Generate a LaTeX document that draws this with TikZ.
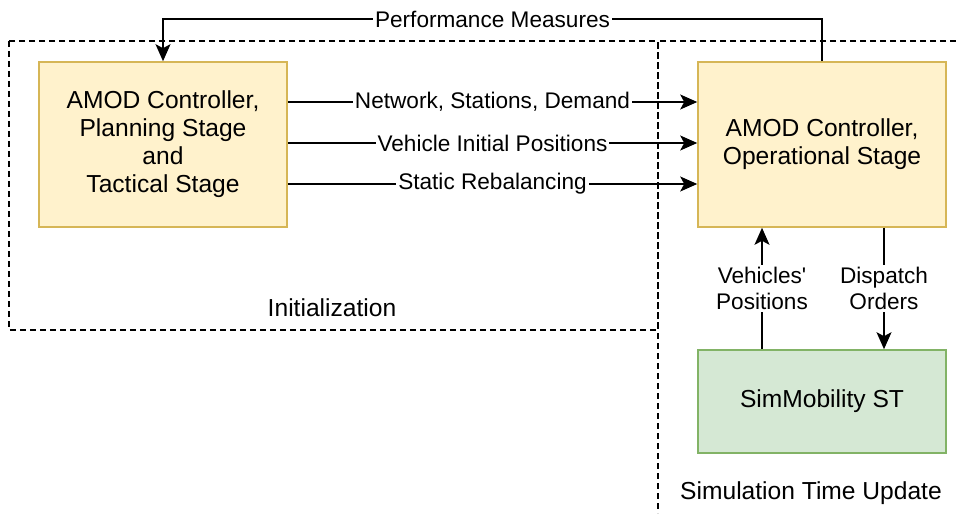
\documentclass[tikz,border=0pt]{standalone}
\usepackage{fontspec}
\setmainfont{Liberation Sans}
\usetikzlibrary{arrows.meta}

\definecolor{ctrlfill}{HTML}{FFF2CC}
\definecolor{ctrldraw}{HTML}{D6B656}
\definecolor{simfill}{HTML}{D5E8D4}
\definecolor{simdraw}{HTML}{82B366}

\tikzset{
	ctrl/.style={draw=ctrldraw, fill=ctrlfill, line width=0.8pt, minimum width=124pt, minimum height=82.5pt, align=center, font=\fontsize{12.3}{14}\selectfont},
	simbox/.style={draw=simdraw, fill=simfill, line width=0.8pt, minimum width=124pt, minimum height=51.5pt, align=center, font=\fontsize{12.3}{14}\selectfont},
	region/.style={line width=0.9pt, dash pattern=on 3pt off 2pt},
	regionlbl/.style={font=\fontsize{12.3}{14}\selectfont},
	arr/.style={line width=0.8pt, -{Stealth[length=8.5pt,width=7.5pt,inset=2pt]}},
	lbl/.style={fill=white, inner sep=1pt, align=center, font=\fontsize{11.3}{13}\selectfont},
}

\begin{document}
\begin{tikzpicture}[x=0.5pt,y=-0.5pt]
		\useasboundingbox (0,0) rectangle (956,513);
		
		\draw[region] (9,41) rectangle (658,330);
		\draw[region] (956,41) -- (658,41) -- (658,513);
		\node[regionlbl] (init) at (332,308) {Initialization};
		\node[regionlbl] (simtime) at (811,493) {Simulation Time Update};
		
		\node[ctrl] (Pl) at (163,144.5) {AMOD Controller,\\Planning Stage\\and\\Tactical Stage};
		\node[ctrl] (Op) at (822,144.5) {AMOD Controller,\\Operational Stage};
		\node[simbox] (Sim) at (822,401.5) {SimMobility ST};
		
		\draw [arr] ([yshift=21.25pt]Pl.east) -- ([yshift=21.25pt]Op.west) node[midway,lbl] {Network, Stations, Demand};
		\draw [arr] ([yshift=0.75pt]Pl.east) -- ([yshift=0.75pt]Op.west) node[midway,lbl] {Vehicle Initial Positions};
		\draw [arr] ([yshift=-19.75pt]Pl.east) -- ([yshift=-19.75pt]Op.west) node[midway,lbl] {Static Rebalancing};
		
		\draw [arr] (Op.north) -- ++(0,-42) -| (Pl.north) node[pos=0.25,lbl] {Performance Measures};
		
		\draw [arr] ([xshift=-30pt]Sim.north) -- ([xshift=-30pt]Op.south) node[midway,lbl] {Vehicles\textquotesingle\\Positions};
		\draw [arr] ([xshift=31pt]Op.south) -- ([xshift=31pt]Sim.north) node[midway,lbl] {Dispatch\\Orders};
\end{tikzpicture}
\end{document}
